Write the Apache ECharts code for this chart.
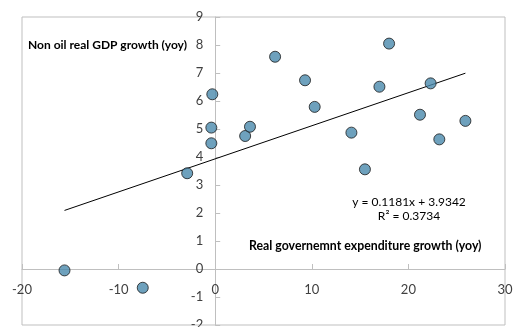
<!DOCTYPE html>
<html>
<head>
<meta charset="utf-8">
<script src="https://cdn.jsdelivr.net/npm/echarts@6/dist/echarts.min.js"></script>
<style>
  html, body { margin: 0; padding: 0; background: #ffffff; }
  #chart { width: 514px; height: 327px; }
</style>
</head>
<body>
<div id="chart"></div>
<script>
// Real government expenditure growth (yoy, %)
const expenditureGrowth = [
  -0.3, -0.4, -0.4, 3.1, 3.6,
  6.2, 18.0, 9.3, 17.0, 22.3,
  10.3, 21.2, 25.9, 14.1, 23.2,
  15.5, -2.9, -15.6, -7.5
];
// Non oil real GDP growth (yoy, %)
const gdpGrowth = [
  6.24, 5.05, 4.49, 4.75, 5.08,
  7.58, 8.05, 6.74, 6.51, 6.63,
  5.79, 5.51, 5.29, 4.87, 4.63,
  3.56, 3.42, -0.05, -0.67
];
// Linear trend fitted to the points above
const trendSlope = 0.1181;
const trendIntercept = 3.9342;
const trendRSquared = 0.3734;

const xTicks = { min: -20, max: 30, interval: 10 };
const yTicks = { min: -2, max: 9, interval: 1 };

const points = expenditureGrowth.map((x, i) => [x, gdpGrowth[i]]);
const xLo = Math.min(...expenditureGrowth);
const xHi = Math.max(...expenditureGrowth);
const trendLine = [xLo, xHi].map(x => [x, trendSlope * x + trendIntercept]);

const font = 'Lato, "Open Sans", sans-serif';
const axisGray = '#bfbfbf';
const labelColor = '#404040';

const chart = echarts.init(document.getElementById('chart'));
chart.setOption({
  animation: false,
  grid: {
    left: 22, right: 9, top: 17, bottom: 2,
    containLabel: false, outerBoundsMode: 'none',
    show: true, borderColor: axisGray, borderWidth: 1
  },
  xAxis: {
    type: 'value', position: 'bottom',
    min: xTicks.min, max: xTicks.max, interval: xTicks.interval,
    splitLine: { show: false },
    axisLine: { onZero: false, lineStyle: { color: axisGray } },
    axisTick: { show: true, inside: true, length: 5, lineStyle: { color: axisGray } },
    axisLabel: { color: labelColor, fontFamily: font, fontSize: 13, margin: 14 }
  },
  yAxis: {
    type: 'value', position: 'left',
    min: yTicks.min, max: yTicks.max, interval: yTicks.interval,
    splitLine: { show: false },
    axisLine: { onZero: false, lineStyle: { color: axisGray } },
    axisTick: { show: true, inside: true, length: 5, lineStyle: { color: axisGray } },
    axisLabel: { color: labelColor, fontFamily: font, fontSize: 13, margin: 12 }
  },
  series: [
    {
      type: 'line',
      data: trendLine,
      symbol: 'none',
      lineStyle: { color: '#000000', width: 1 },
      z: 2
    },
    {
      type: 'scatter',
      data: points,
      symbol: 'circle',
      symbolSize: 11,
      itemStyle: { color: '#4a8aad', borderColor: '#1a1a1a', borderWidth: 1 },
      z: 3
    }
  ],
  graphic: [
    {
      type: 'text', left: 28, top: 39,
      style: {
        text: 'Non oil real GDP growth (yoy)',
        font: 'bold 12px ' + font, fill: '#000000'
      }
    },
    {
      type: 'text', left: 249, top: 240,
      style: {
        text: 'Real governemnt expenditure growth (yoy)',
        font: 'bold 12.3px ' + font, fill: '#000000'
      }
    },
    {
      type: 'text', x: 409, y: 202,
      style: {
        text: 'y = ' + trendSlope + 'x + ' + trendIntercept,
        font: '12px ' + font, fill: '#000000',
        align: 'center', verticalAlign: 'middle'
      }
    },
    {
      type: 'text', x: 409, y: 216,
      style: {
        text: 'R\u00B2 = ' + trendRSquared,
        font: '12px ' + font, fill: '#000000',
        align: 'center', verticalAlign: 'middle'
      }
    }
  ]
});

// Move both axes so they cross at the origin, using the chart's own scales.
const gridRect = chart.getModel().getComponent('grid').coordinateSystem.getRect();
const originX = chart.convertToPixel({ xAxisIndex: 0 }, 0);
const originY = chart.convertToPixel({ yAxisIndex: 0 }, 0);
chart.setOption({
  yAxis: { offset: gridRect.x - originX },
  xAxis: { offset: originY - (gridRect.y + gridRect.height) }
});
</script>
</body>
</html>
